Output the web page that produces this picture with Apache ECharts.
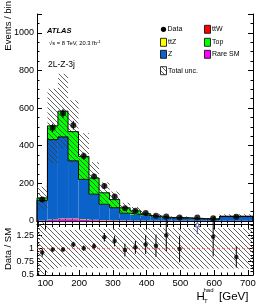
<!DOCTYPE html>
<html><head><meta charset="utf-8">
<script src="https://cdn.jsdelivr.net/npm/echarts@6/dist/echarts.min.js"></script>
<style>html,body{margin:0;padding:0;background:#fff}#c{width:267px;height:307px}</style>
</head><body><div id="c"></div>
<script>
// ---- data ----
const binEdges = [75,106,137,167,198,229,259,290,320,351,382,412,443,473,522,578,616,715];
const rareSM  = [2,5,9,9,6,4,3,2,2,1,1,1,1,1,1,0.5,1];
const ttW     = [0.3,1,1.5,1.5,1.2,1,0.8,0.6,0.4,0.3,0.3,0.2,0.2,0.2,0.1,0.1,0.2];
const ttZ     = [0.3,1.5,2.5,2.5,2,1.5,1.2,1,0.8,0.6,0.5,0.4,0.3,0.3,0.2,0.2,0.4];
const zJets   = [107,425,434,307,212,136,84,67,38,32,28,20,14.5,13.5,9,8,22];
const topBkg  = [13,73,137,155,122,86,61,43,29,20,9,5,3,3,2,2.5,2];
const dataCounts = [114,495,572,509,345,237,186,130,68,55,42,28,24,18,18,14,22];
const dataErr    = [11,22,24,23,19,15,14,11,8,7,6,5,5,4,4,4,5];
const uncFrac    = [0.49,0.39,0.34,0.35,0.36,0.37,0.37,0.38,0.38,0.38,0.38,0.38,0.38,0.38,0.38,0.38,0.38];
const ratioVals  = [0.925,0.98,0.98,1.075,1.005,1.04,1.21,1.14,0.97,1.02,1.075,1.05,1.25,0.99,null,1.22,0.84];
const ratioErr   = [0.08,0.04,0.04,0.05,0.05,0.06,0.08,0.1,0.12,0.12,0.18,0.21,0.3,0.25,0,0.37,0.2];
const arrowBins  = [{bin:14, from:1.27, to:1.49}];
const yMainTicks = [0,200,400,600,800,1000];
const yRatioTicks = [0.5,0.75,1,1.25];
const xTickLabels = [100,200,300,400,500,600,700];

const FONT = 'Liberation Sans, Arial, Helvetica, sans-serif';
const COLORS = {rare:'#ff00ff', ttW:'#ff0000', ttZ:'#ffff00', z:'#0b62c8', top:'#00ff00'};

function makeHatch(){
  const c=document.createElement('canvas');c.width=5;c.height=5;
  const g=c.getContext('2d');g.strokeStyle='#3a3a3a';g.lineWidth=0.8;
  g.beginPath();g.moveTo(-1,-1);g.lineTo(6,6);g.moveTo(-1,4);g.lineTo(1,6);g.moveTo(4,-1);g.lineTo(6,1);g.stroke();
  return c;
}
const hatch = {image: makeHatch(), repeat:'repeat'};

const nB = binEdges.length-1;
const layers = [
  {vals:rareSM, color:COLORS.rare},
  {vals:ttW, color:COLORS.ttW},
  {vals:ttZ, color:COLORS.ttZ},
  {vals:zJets, color:COLORS.z},
  {vals:topBkg, color:COLORS.top}
];
const cum = new Array(nB).fill(0);
const series = [];
const cumTops = [];
layers.forEach(L=>{
  const d=[];
  for(let i=0;i<nB;i++){ d.push([binEdges[i],binEdges[i+1],cum[i],cum[i]+L.vals[i]]); cum[i]+=L.vals[i]; }
  cumTops.push(cum.slice());
  series.push({type:'custom',xAxisIndex:0,yAxisIndex:0,data:d,encode:{x:[0,1],y:[2,3]},
    renderItem:(p,api)=>{const a=api.coord([api.value(0),api.value(3)]);const b=api.coord([api.value(1),api.value(2)]);
      return {type:'rect',shape:{x:a[0],y:a[1],width:b[0]-a[0],height:b[1]-a[1]},style:{fill:L.color}};}});
});
const total = cum.slice();
function stepPts(v){const pts=[[binEdges[0],0]];for(let i=0;i<nB;i++){pts.push([binEdges[i],v[i]]);pts.push([binEdges[i+1],v[i]]);}pts.push([binEdges[nB],0]);return pts;}
[cumTops[3], cumTops[4]].forEach(v=>{
  series.push({type:'line',xAxisIndex:0,yAxisIndex:0,data:stepPts(v),symbol:'none',lineStyle:{color:'#000',width:0.9},silent:true,animation:false});
});
// uncertainty band main
const bandMain=[];for(let i=0;i<nB;i++)bandMain.push([binEdges[i],binEdges[i+1],total[i]*(1-uncFrac[i]),total[i]*(1+uncFrac[i])]);
function rectRender(fill){return (p,api)=>{const a=api.coord([api.value(0),api.value(3)]);const b=api.coord([api.value(1),api.value(2)]);
  return {type:'rect',shape:{x:a[0],y:a[1],width:b[0]-a[0],height:b[1]-a[1]},style:{fill:fill}};};}
series.push({type:'custom',xAxisIndex:0,yAxisIndex:0,data:bandMain,encode:{x:[0,1],y:[2,3]},renderItem:rectRender(hatch)});
// data points main
const centers = []; for(let i=0;i<nB;i++) centers.push((binEdges[i]+binEdges[i+1])/2);
const errMain = centers.map((c,i)=>[c,dataCounts[i]-dataErr[i],dataCounts[i]+dataErr[i]]);
function errRender(p,api){const a=api.coord([api.value(0),api.value(1)]);const b=api.coord([api.value(0),api.value(2)]);
  return {type:'line',shape:{x1:a[0],y1:a[1],x2:b[0],y2:b[1]},style:{stroke:'#000',lineWidth:1}};}
series.push({type:'custom',xAxisIndex:0,yAxisIndex:0,data:errMain,encode:{x:0,y:[1,2]},renderItem:errRender});
series.push({type:'scatter',xAxisIndex:0,yAxisIndex:0,data:centers.map((c,i)=>[c,dataCounts[i]]),symbolSize:6,itemStyle:{color:'#000'},z:5});

// ratio panel
const bandRatio=[];for(let i=0;i<nB;i++)bandRatio.push([binEdges[i],binEdges[i+1],1-uncFrac[i],1+uncFrac[i]]);
series.push({type:'custom',xAxisIndex:2,yAxisIndex:2,data:bandRatio,encode:{x:[0,1],y:[2,3]},renderItem:rectRender(hatch)});
series.push({type:'line',xAxisIndex:2,yAxisIndex:2,data:[[binEdges[0],1],[binEdges[nB],1]],symbol:'none',
  lineStyle:{color:'#ff5050',width:0.8,type:[3,2]},silent:true});
const errRatio=[];const ptsRatio=[];
for(let i=0;i<nB;i++){ if(ratioVals[i]!=null){errRatio.push([centers[i],ratioVals[i]-ratioErr[i],ratioVals[i]+ratioErr[i]]);ptsRatio.push([centers[i],ratioVals[i]]);} }
series.push({type:'custom',xAxisIndex:2,yAxisIndex:2,data:errRatio,encode:{x:0,y:[1,2]},renderItem:errRender,clip:false});
series.push({type:'scatter',xAxisIndex:2,yAxisIndex:2,data:ptsRatio,symbolSize:4.5,itemStyle:{color:'#000'},z:5});
series.push({type:'custom',xAxisIndex:2,yAxisIndex:2,clip:false,z:6,
  data:arrowBins.map(a=>[centers[a.bin],a.from,a.to]),encode:{x:0,y:[1,2]},
  renderItem:(p,api)=>{const a=api.coord([api.value(0),api.value(1)]);const b=api.coord([api.value(0),api.value(2)]);
    return {type:'group',children:[
      {type:'line',shape:{x1:a[0],y1:a[1],x2:b[0],y2:b[1]+3},style:{stroke:'#4a4aa0',lineWidth:1}},
      {type:'polygon',shape:{points:[[b[0],b[1]],[b[0]-2.2,b[1]+4.5],[b[0]+2.2,b[1]+4.5]]},style:{fill:'#fff',stroke:'#4a4aa0',lineWidth:0.9}}]};}});

function xAx(grid,pos,labels){return {type:'value',gridIndex:grid,position:pos,min:binEdges[0],max:binEdges[nB],
  axisLine:{show:true,lineStyle:{color:'#000',width:1}},axisTick:{show:true,inside:true,length:5,lineStyle:{color:'#000'}},
  minorTick:{show:true,splitNumber:5,length:2.5,lineStyle:{color:'#000'}},splitLine:{show:false},
  axisLabel:{show:labels,showMinLabel:false,showMaxLabel:false,fontFamily:FONT,fontSize:9.5,color:'#000',margin:3,
    formatter:v=>xTickLabels.includes(v)?String(v):''}};}
function yAx(grid,pos,min,max,interval,labels,ticks){return {type:'value',gridIndex:grid,position:pos,min:min,max:max,interval:interval,
  axisLine:{show:true,lineStyle:{color:'#000',width:1}},axisTick:{show:true,inside:true,length:5,lineStyle:{color:'#000'}},
  minorTick:{show:true,splitNumber:4,length:2.5,lineStyle:{color:'#000'}},splitLine:{show:false},
  axisLabel:{show:labels,showMaxLabel:false,fontFamily:FONT,fontSize:9,color:'#000',margin:3,
    formatter:v=>ticks.includes(+v.toFixed(2))?String(+v.toFixed(2)):''}};}

const T=(text,x,y,size,extra)=>Object.assign({type:'text',x:x,y:y,style:Object.assign({text:text,fontFamily:FONT,fontSize:size,fill:'#000',verticalAlign:'middle',align:'left'},extra||{})});
const legendBox=(x,y,fill)=>({type:'rect',shape:{x:x,y:y-4,width:6,height:8},style:{fill:fill,stroke:'#000',lineWidth:0.8}});
const graphic=[
  {type:'text',x:8,y:1,rotation:Math.PI/2,style:{text:'Events / bin',fontFamily:FONT,fontSize:9.5,fill:'#000',align:'right',verticalAlign:'middle'}},
  {type:'text',x:8,y:249,rotation:Math.PI/2,style:{text:'Data / SM',fontFamily:FONT,fontSize:9.5,fill:'#000',align:'center',verticalAlign:'middle'}},
  T('ATLAS',47,30.5,7.5,{fontWeight:'bold',fontStyle:'italic'}),
  {type:'text',x:49,y:43.5,style:{text:'√s = 8 TeV, 20.3 fb{s|-1}',fontFamily:FONT,fontSize:5.8,fill:'#000',verticalAlign:'middle',
    rich:{s:{fontSize:4.2,fontFamily:FONT,verticalAlign:'top',padding:[0,0,4,0]}}}},
  T('2L-Z-3j',48,65,8.5),
  {type:'circle',shape:{cx:163.5,cy:29.3,r:2.6},style:{fill:'#000'}},
  T('Data',167.5,29.3,7),
  legendBox(160.5,42.3,COLORS.ttZ), T('ttZ',168,42.3,7),
  legendBox(160.5,54.3,COLORS.z), T('Z',168,54.3,7),
  legendBox(160.5,70.7,hatch), T('Total unc.',168,70.7,7),
  legendBox(204.5,29.3,COLORS.ttW), T('ttW',212,29.3,7),
  legendBox(204.5,42.3,COLORS.top), T('Top',212,42.3,7),
  legendBox(204.5,54.3,COLORS.rare), T('Rare SM',212,54.3,7),
  T('H',196.5,296.5,11.5), T('had',203.5,290.5,6), T('T',204,301.5,6), T('[GeV]',219,296.5,11.5)
];

const chart = echarts.init(document.getElementById('c'),null,{renderer:'canvas'});
chart.setOption({
  animation:false,
  grid:[{left:37,top:14,width:216,height:207},{left:37,top:224.5,width:216,height:50.5}],
  xAxis:[xAx(0,'bottom',false),xAx(0,'top',false),xAx(1,'bottom',true),xAx(1,'top',false)],
  yAxis:[yAx(0,'left',0,1100,200,true,yMainTicks),yAx(0,'right',0,1100,200,false,yMainTicks),
         yAx(1,'left',0.5,1.45,0.25,true,yRatioTicks),yAx(1,'right',0.5,1.45,0.25,false,yRatioTicks)],
  series:series,
  graphic:graphic
});
</script></body></html>
